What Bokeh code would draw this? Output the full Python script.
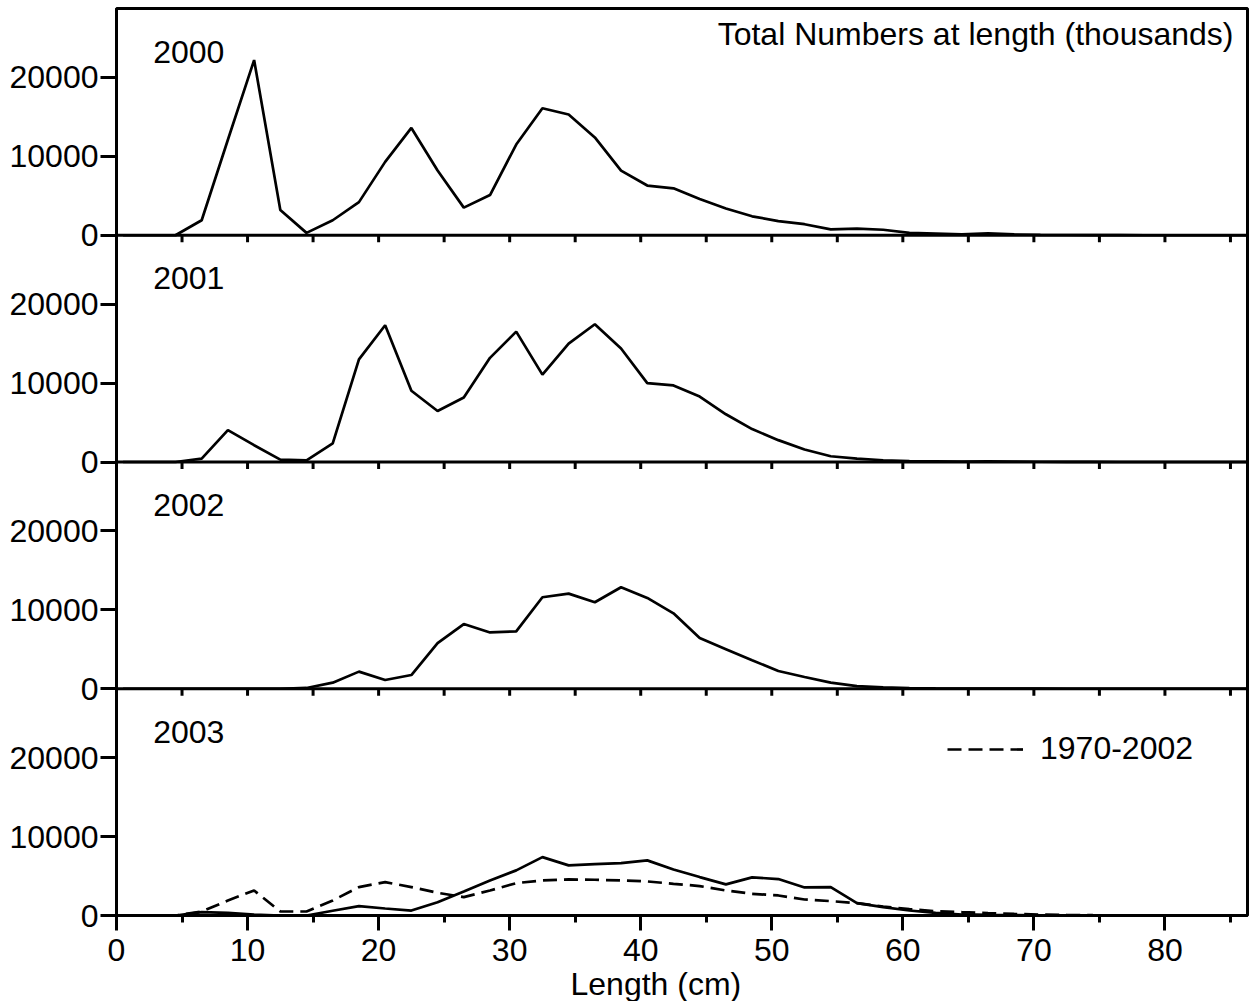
import numpy as np
from bokeh.plotting import figure
from bokeh.models import (Range1d, LinearAxis, FixedTicker, SingleIntervalTicker,
                          Span, Label, Legend, LegendItem, Title)
from bokeh.embed import file_html
from bokeh.resources import INLINE

# ---------------- data ----------------
lengths = [0.5 + 2 * i for i in range(44)]  # 2 cm length classes, mid-points

years = ["2000", "2001", "2002", "2003"]

n2000 = [0, 0, 0, 1900, 12100, 22200, 3200, 300, 1900, 4200, 9300, 13600, 8200, 3500,
         5100, 11500, 16100, 15300, 12400, 8200, 6300, 5950, 4600, 3400, 2400, 1800,
         1400, 750, 850, 700, 300, 200, 100, 250, 100, 50, 30, 20, 10, 0, 0, 0, 0, 0]

n2001 = [0, 0, 0, 430, 4050, 2130, 300, 200, 2350, 13000, 17330, 9030, 6470, 8170,
         13200, 16520, 11070, 15000, 17460, 14390, 10000, 9710, 8300, 6050, 4170, 2770,
         1580, 730, 430, 220, 100, 80, 50, 80, 50, 30, 20, 10, 0, 0, 0, 0, 0, 0]

n2002 = [0, 0, 0, 0, 0, 0, 0, 100, 770, 2170, 1110, 1740, 5780, 8200, 7140, 7270,
         11600, 12060, 10960, 12870, 11510, 9560, 6420, 5020, 3610, 2250, 1490, 770,
         340, 170, 80, 40, 30, 30, 20, 10, 0, 0, 0, 0, 0, 0, 0, 0]

n2003 = [0, 0, 0, 420, 340, 100, 0, 0, 600, 1180, 890, 630, 1690, 3050, 4450, 5720,
         7400, 6350, 6520, 6640, 6990, 5840, 4870, 3940, 4830, 4620, 3560, 3600, 1570,
         1060, 630, 340, 130, 80, 50, 30, 20, 10, 0, 0, 0, 0, 0, 0]

mean_1970_2002 = [0, 0, 0, 500, 1900, 3170, 510, 510, 1900, 3600, 4230, 3600, 2880,
                  2330, 3170, 4100, 4450, 4570, 4530, 4450, 4320, 4020, 3730, 3170,
                  2750, 2540, 2030, 1820, 1570, 1140, 800, 550, 420, 300, 200, 120, 70,
                  40, 20, 10, 0, 0, 0, 0]

series = [n2000, n2001, n2002, n2003]
y_tick_values = [0, 10000, 20000]
x_tick_step = 5

# ---------------- layout constants ----------------
PANEL = 28740          # y extent of each panel
NP = len(years)
XMAX = 86.3
FONT = "Liberation Sans"
FS = "32px"

p = figure(frame_width=1131, frame_height=907,
           x_range=Range1d(0, XMAX), y_range=Range1d(0, NP * PANEL),
           x_axis_type=None, y_axis_type=None,
           min_border_left=116, min_border_right=3, min_border_top=8,
           min_border_bottom=0,
           output_backend="svg", toolbar_location=None)
p.outline_line_color = "black"
p.outline_line_width = 3
p.background_fill_color = "white"
p.border_fill_color = "white"

# one y range per panel, each mapping the full frame height
names = {}
for i, yr in enumerate(years):
    below = NP - 1 - i
    if below == 0:
        names[yr] = "default"
    else:
        names[yr] = "r" + yr
        p.extra_y_ranges[names[yr]] = Range1d(-below * PANEL, PANEL + i * PANEL)

# x axis
xaxis = LinearAxis(ticker=SingleIntervalTicker(interval=10, num_minor_ticks=2),
                   major_tick_out=15, major_tick_in=0,
                   minor_tick_out=7, minor_tick_in=0,
                   axis_line_width=3, major_tick_line_width=3, minor_tick_line_width=3,
                   major_label_text_font=FONT, major_label_text_font_size=FS,
                   major_label_text_color="black",
                   major_label_standoff=8)
p.add_layout(xaxis, "below")

# x axis title (left-aligned under the frame, shifted by an offset)
p.add_layout(Title(text="Length (cm)", align="left", offset=454, standoff=0,
                   text_font=FONT, text_font_size=FS, text_font_style="normal",
                   text_color="black"), "below")

# y axis (same 0/10000/20000 labels repeated in every panel)
ticks, overrides = [], {}
for k in range(NP):
    for v in y_tick_values:
        t = k * PANEL + v
        ticks.append(t)
        overrides[t] = str(v)
yaxis = LinearAxis(ticker=FixedTicker(ticks=ticks, minor_ticks=[]),
                   major_label_overrides=overrides,
                   major_tick_out=16, major_tick_in=0,
                   axis_line_width=3, major_tick_line_width=3,
                   major_label_text_font=FONT, major_label_text_font_size=FS,
                   major_label_text_color="black",
                   major_label_standoff=2)
p.add_layout(yaxis, "left")

# panel separators with hanging ticks
tick_x = list(np.arange(x_tick_step, XMAX, x_tick_step))
for k in range(1, NP):
    p.add_layout(Span(location=k * PANEL, dimension="width",
                      line_color="black", line_width=3))
    p.ray(x=tick_x, y=[k * PANEL] * len(tick_x), length=7, length_units="screen",
          angle=-np.pi / 2, line_color="black", line_width=3)

# data lines
dashed = None
for yr, vals in zip(years, series):
    rn = names[yr]
    p.line(lengths, vals, y_range_name=rn, line_color="black", line_width=2.7)
    if yr == "2003":
        dashed = p.line(lengths, mean_1970_2002, y_range_name=rn,
                        line_color="black", line_width=2.7, line_dash="14 7")
    p.add_layout(Label(x=2.8, y=PANEL, y_range_name=rn, y_offset=-43, text=yr,
                       text_font=FONT, text_font_size=FS, text_color="black",
                       text_baseline="alphabetic"))

p.add_layout(Label(x=XMAX, x_offset=-14, y=PANEL, y_range_name=names["2000"],
                   y_offset=-25, text="Total Numbers at length (thousands)",
                   text_align="right", text_baseline="alphabetic",
                   text_font=FONT, text_font_size=FS, text_color="black"))

legend = Legend(items=[LegendItem(label="1970-2002", renderers=[dashed])],
                location=(831, 148), orientation="vertical",
                glyph_width=76, glyph_height=30, label_standoff=17,
                label_text_font=FONT, label_text_font_size=FS,
                label_text_color="black",
                padding=0, margin=0, spacing=0,
                border_line_color=None, background_fill_alpha=0)
p.add_layout(legend, "center")

open("out.html", "w").write(file_html(p, INLINE))
